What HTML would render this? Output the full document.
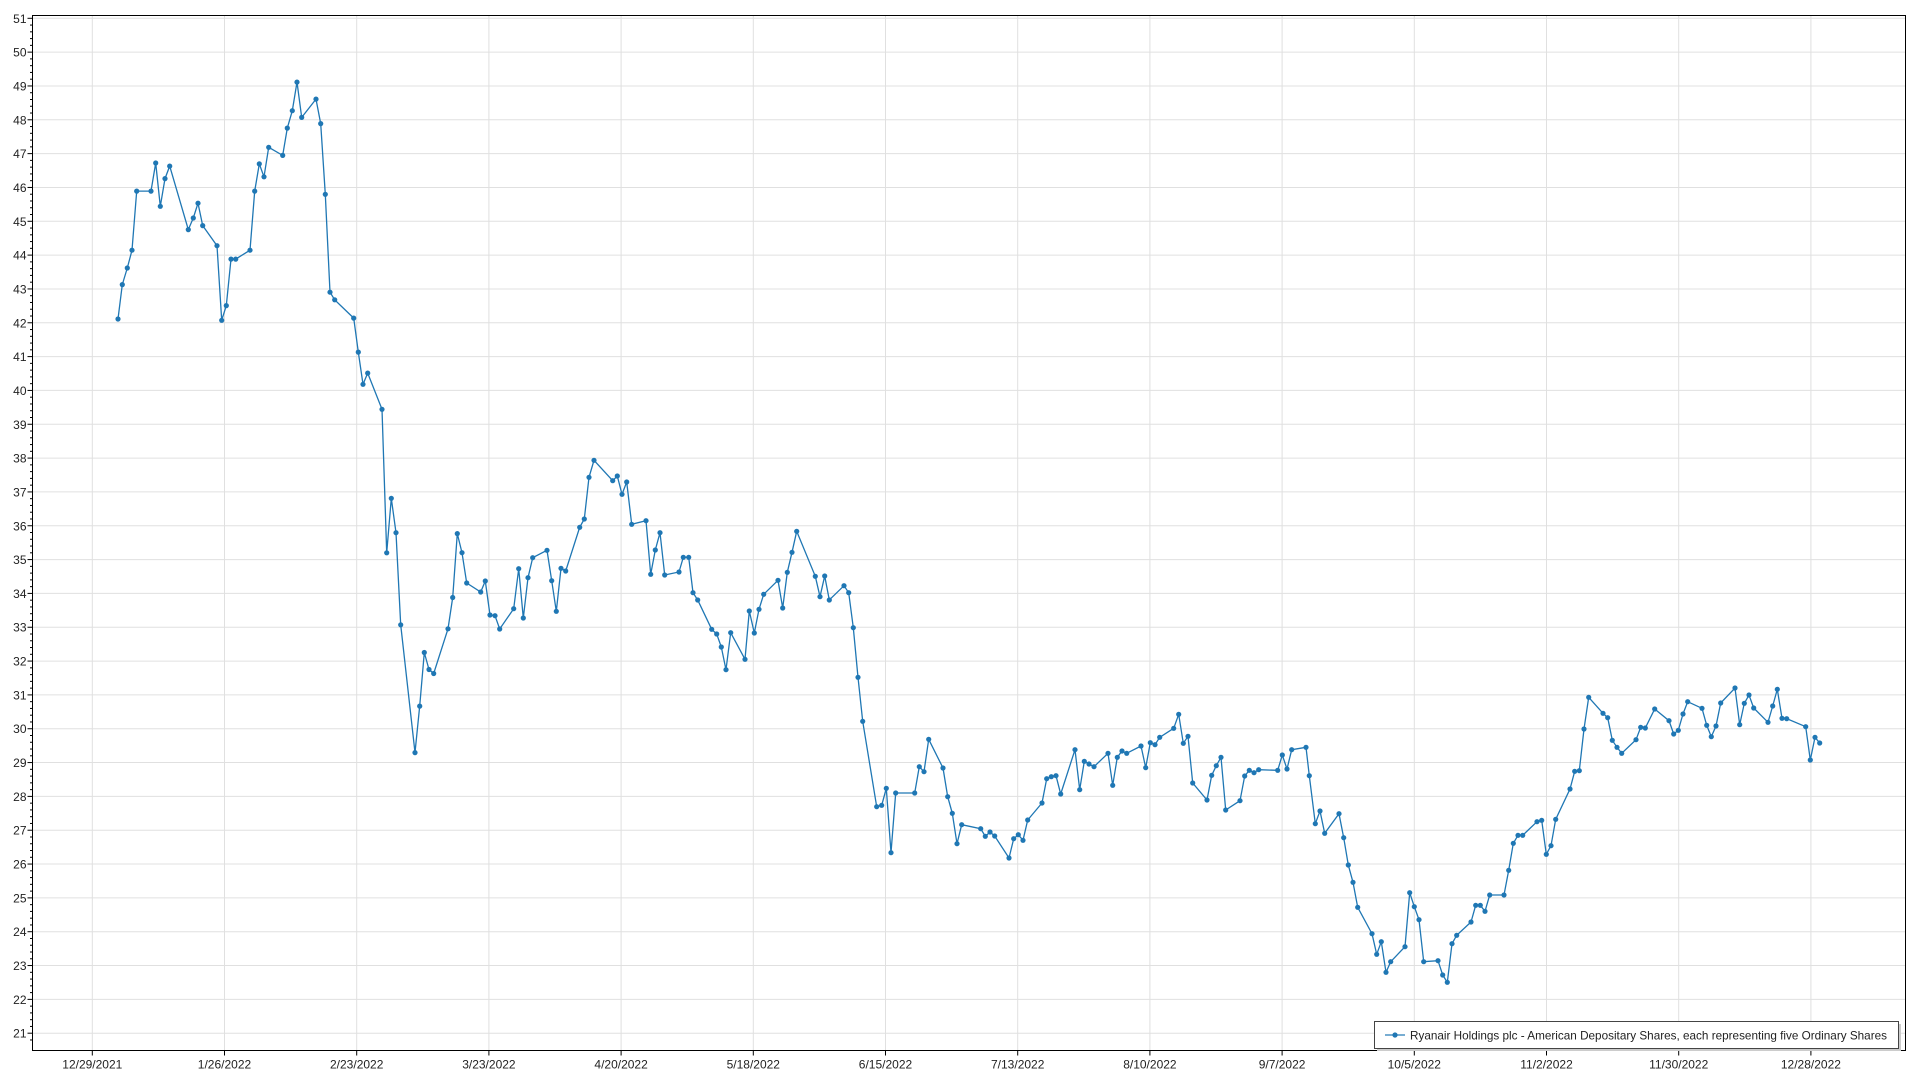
<!DOCTYPE html>
<html><head><meta charset="utf-8"><style>
html,body{margin:0;padding:0;background:#fff;}
svg{display:block;font-family:"Liberation Sans",sans-serif;}
</style></head><body>
<svg id="c" width="1920" height="1080" xmlns="http://www.w3.org/2000/svg"></svg>
<script>
const NS="http://www.w3.org/2000/svg";
const svg=document.getElementById('c');
function el(t,a,txt){const e=document.createElementNS(NS,t);for(const k in a)e.setAttribute(k,a[k]);if(txt!==undefined)e.textContent=txt;svg.appendChild(e);return e;}
const L=32.5,T=15.5,R=1905.5,B=1050.5;
const yv=v=>18.3+(51-v)*33.83;
for(let v=21;v<=51;v++){const y=yv(v);el('line',{x1:L,x2:R,y1:y,y2:y,stroke:'#e0e0e0','stroke-width':1});}
const dates=["12/29/2021","1/26/2022","2/23/2022","3/23/2022","4/20/2022","5/18/2022","6/15/2022","7/13/2022","8/10/2022","9/7/2022","10/5/2022","11/2/2022","11/30/2022","12/28/2022"];
dates.forEach((d,i)=>{const x=92.3+132.2*i;el('line',{x1:x,x2:x,y1:T,y2:B,stroke:'#e0e0e0','stroke-width':1});
el('line',{x1:x,x2:x,y1:B,y2:B+5,stroke:'#000','stroke-width':1});
el('text',{x:x,y:B+18,'text-anchor':'middle','font-size':12,fill:'#222'},d);});
for(let v=21;v<=51;v++){const y=yv(v);el('line',{x1:L-5,x2:L,y1:y,y2:y,stroke:'#000','stroke-width':1});
el('text',{x:L-6,y:y+4.5,'text-anchor':'end','font-size':12,fill:'#222'},String(v));
for(let m=1;m<5;m++){const ym=yv(v+m*0.2);if(ym>T)el('line',{x1:L-2.5,x2:L,y1:ym,y2:ym,stroke:'#000','stroke-width':1});}}
{const ym=yv(20.8);el('line',{x1:L-2.5,x2:L,y1:ym,y2:ym,stroke:'#000','stroke-width':1});}
el('rect',{x:L,y:T,width:R-L,height:B-T,fill:'none',stroke:'#000','stroke-width':1});
const segs=[
[100,70,3,2.237,[[54,557],[67,480],[82,443],[96,403],[110,271],[153,271],[167,208],[181,305],[195,243],[209,215],[265,357],[280,331],[294,298],[308,348],[351,393],[365,560],[379,527],[393,423],[407,423],[450,403],[464,271],[478,210],[492,239],[506,173],[548,191],[562,130],[577,91],[591,27],[605,106],[648,65],[662,120],[676,278],[690,497],[704,514],[761,555],[775,631],[789,703],[803,678],[846,759],[860,1080],[874,958],[888,1035],[902,1241],[945,1527],[959,1423],[973,1303],[987,1341],[1001,1350],[1044,1250],[1058,1180],[1072,1037]]],
[360,420,3,3,[[306,398],[320,489],[362,516],[376,483],[390,585],[405,587],[419,627],[461,566],[476,446],[490,594],[504,473],[518,413],[561,391],[575,482],[589,574],[603,445],[617,453],[659,322],[673,297],[687,172],[702,121],[758,182],[772,168],[786,223],[800,186],[815,313],[858,302],[872,463],[886,390],[900,338],[914,465],[957,456],[970,412],[986,412],[999,518],[1013,540],[1055,628],[1070,642],[1084,681],[1098,749],[1112,638],[1155,718],[1168,573],[1183,639],[1197,568],[1211,523],[1254,481],[1268,564],[1282,457],[1296,397],[1310,334],[1366,469],[1380,530],[1394,468],[1408,540]]],
[830,580,3,3,[[42,17],[56,38],[70,143],[84,292],[98,424],[140,680],[155,676],[169,625],[183,818],[197,639],[254,639],[268,560],[282,575],[296,478],[339,564],[353,650],[367,700],[381,791],[395,734],[452,746],[466,769],[480,756],[494,768],[537,834],[551,776],[565,764],[579,781],[593,720],[636,669],[650,596],[664,590],[678,587],[692,642],[735,509],[749,629],[763,544],[777,552],[792,560],[834,520],[848,616],[862,532],[876,513],[890,520],[933,498],[947,563],[961,488],[975,494],[989,472],[1031,445],[1046,403],[1060,490],[1074,469],[1088,609],[1131,660],[1145,586],[1159,557],[1173,532],[1187,690],[1230,662],[1244,588],[1258,571],[1272,578],[1286,569],[1343,571],[1357,525],[1371,567],[1385,509],[1428,502],[1438,587]]],
[1300,640,3,3,[[46,551],[60,513],[74,580],[117,521],[131,593],[145,675],[159,727],[173,802],[216,881],[230,943],[244,905],[258,997],[272,965],[315,920],[329,758],[343,800],[357,839],[371,965],[414,962],[428,1005],[442,1027],[456,911],[470,886],[513,846],[527,796],[541,796],[555,814],[569,765],[612,765],[626,691],[640,610],[654,586],[668,586],[711,545],[725,541],[739,643],[753,617],[767,538],[810,447],[824,394],[838,392],[852,267],[866,172],[909,220],[923,233],[937,301],[951,322],[965,340],[1008,299],[1022,262],[1036,264],[1064,207],[1107,242],[1121,282],[1135,271],[1149,222],[1163,185],[1206,205],[1220,256],[1234,290],[1248,258],[1262,189],[1305,144],[1319,254],[1333,190],[1347,165],[1361,204],[1404,247],[1418,198],[1432,148]]],
[1640,660,3,3,[[426,175],[440,176],[497,200],[511,300],[525,232],[539,249]]]
];
const pts=[];
segs.forEach(([ox,oy,sx,sy,arr])=>arr.forEach(([a,b])=>pts.push([ox+a/sx,oy+b/sy])));
el('polyline',{points:pts.map(p=>p[0].toFixed(1)+','+p[1].toFixed(1)).join(' '),fill:'none',stroke:'#1f77b4','stroke-width':1.3});
pts.forEach(p=>el('circle',{cx:p[0].toFixed(1),cy:p[1].toFixed(1),r:2.6,fill:'#1f77b4'}));
el('rect',{x:1377,y:1024,width:524,height:27,fill:'#ccc'});
el('rect',{x:1374.5,y:1021.5,width:524,height:27,fill:'#fff',stroke:'#444','stroke-width':1});
el('line',{x1:1385,x2:1405,y1:1035,y2:1035,stroke:'#1f77b4','stroke-width':1.5,opacity:0.8});
el('circle',{cx:1395,cy:1035,r:2.6,fill:'#1f77b4'});
el('text',{x:1410,y:1039.5,'font-size':12,fill:'#222',textLength:477,lengthAdjust:'spacingAndGlyphs'},'Ryanair Holdings plc - American Depositary Shares, each representing five Ordinary Shares');
</script>
</body></html>
